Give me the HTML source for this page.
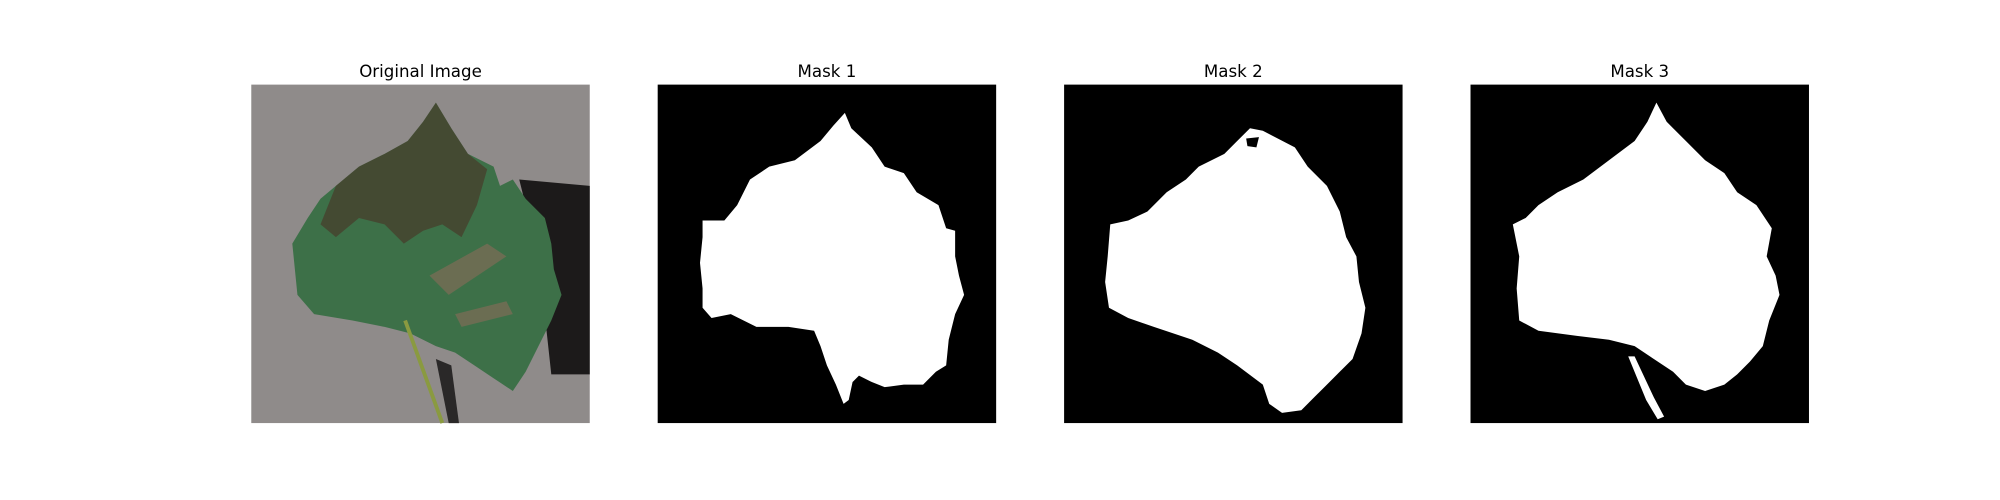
<!DOCTYPE html>
<html><head><meta charset="utf-8"><style>
html,body{margin:0;padding:0;background:#fff;width:2000px;height:500px;overflow:hidden}
svg{display:block}
text{font-family:"DejaVu Sans","Liberation Sans",sans-serif;fill:#000}
</style></head><body>
<svg width="2000" height="500" viewBox="0 0 1560 390" preserveAspectRatio="none">
 <g>
  <text x="328" y="60" font-size="13" text-anchor="middle">Original Image</text>
  <rect x="196" y="66" width="264" height="264" fill="#8f8b8a"/>
  <polygon points="405,140 460,145 460,292 430,292 420,200" fill="#1c1a1a"/>
  <polygon points="350,330 340,280 352,285 358,330" fill="#2a2828"/>
  <polygon points="340,80 352,100 365,120 385,130 390,145 400,140 410,155 425,170 430,190 432,210 438,230 430,250 420,270 410,290 400,305 385,295 370,285 355,275 340,270 320,260 300,255 275,250 245,245 232,230 230,210 228,190 240,170 250,155 262,145 280,130 300,120 318,110 330,95" fill="#3d7048"/>
  <polygon points="250,175 262,145 280,130 300,120 318,110 330,95 340,80 352,100 365,120 380,132 372,160 360,185 345,175 330,180 315,190 300,175 280,170 262,185" fill="#4a3025" opacity="0.6"/>
  <polygon points="335,215 380,190 395,200 350,230" fill="#8a6a5a" opacity="0.6"/>
  <polygon points="355,245 395,235 400,245 360,255" fill="#8a6a5a" opacity="0.6"/>
  <line x1="316" y1="250" x2="345" y2="330" stroke="#8a9a40" stroke-width="3"/>
 </g>
 <g>
  <text x="645" y="60" font-size="13" text-anchor="middle">Mask 1</text>
  <rect x="513" y="66" width="264" height="264" fill="#000"/>
  <polygon points="659,88 664,100 680,115 690,130 705,135 715,150 732,160 738,178 745,180 745,200 748,215 752,230 745,245 740,265 738,285 730,290 720,300 705,300 690,302 680,298 670,293 665,298 662,312 658,315 652,300 645,285 640,270 635,258 615,255 590,255 570,245 555,248 548,240 548,225 546,205 548,185 548,172 565,172 575,160 585,140 600,130 620,125 640,110 650,98" fill="#fff"/>
 </g>
 <g>
  <text x="962" y="60" font-size="13" text-anchor="middle">Mask 2</text>
  <rect x="830" y="66" width="264" height="264" fill="#000"/>
  <polygon points="975,100 985,102 1010,115 1020,130 1035,145 1045,165 1050,185 1058,200 1060,220 1065,240 1062,260 1055,280 1045,290 1035,300 1025,310 1015,320 1000,322 990,315 985,300 965,285 950,275 930,265 900,255 880,248 865,240 862,220 864,200 866,175 880,172 895,165 910,150 925,140 935,130 955,120 965,110" fill="#fff"/>
  <polygon points="972,108 982,107 980,115 973,114" fill="#000"/>
 </g>
 <g>
  <text x="1279" y="60" font-size="13" text-anchor="middle">Mask 3</text>
  <rect x="1147" y="66" width="264" height="264" fill="#000"/>
  <polygon points="1292,80 1300,95 1315,110 1330,125 1345,135 1355,150 1370,160 1382,178 1378,200 1385,215 1388,230 1380,250 1375,270 1365,282 1355,292 1345,300 1330,305 1315,300 1305,290 1290,280 1275,270 1255,265 1230,262 1200,258 1185,250 1183,225 1185,200 1180,175 1190,170 1200,160 1215,150 1235,140 1255,125 1275,110 1285,95" fill="#fff"/>
  <polygon points="1270,278 1275,278 1290,310 1298,325 1293,327 1284,312" fill="#fff"/>
 </g>
</svg>
</body></html>
